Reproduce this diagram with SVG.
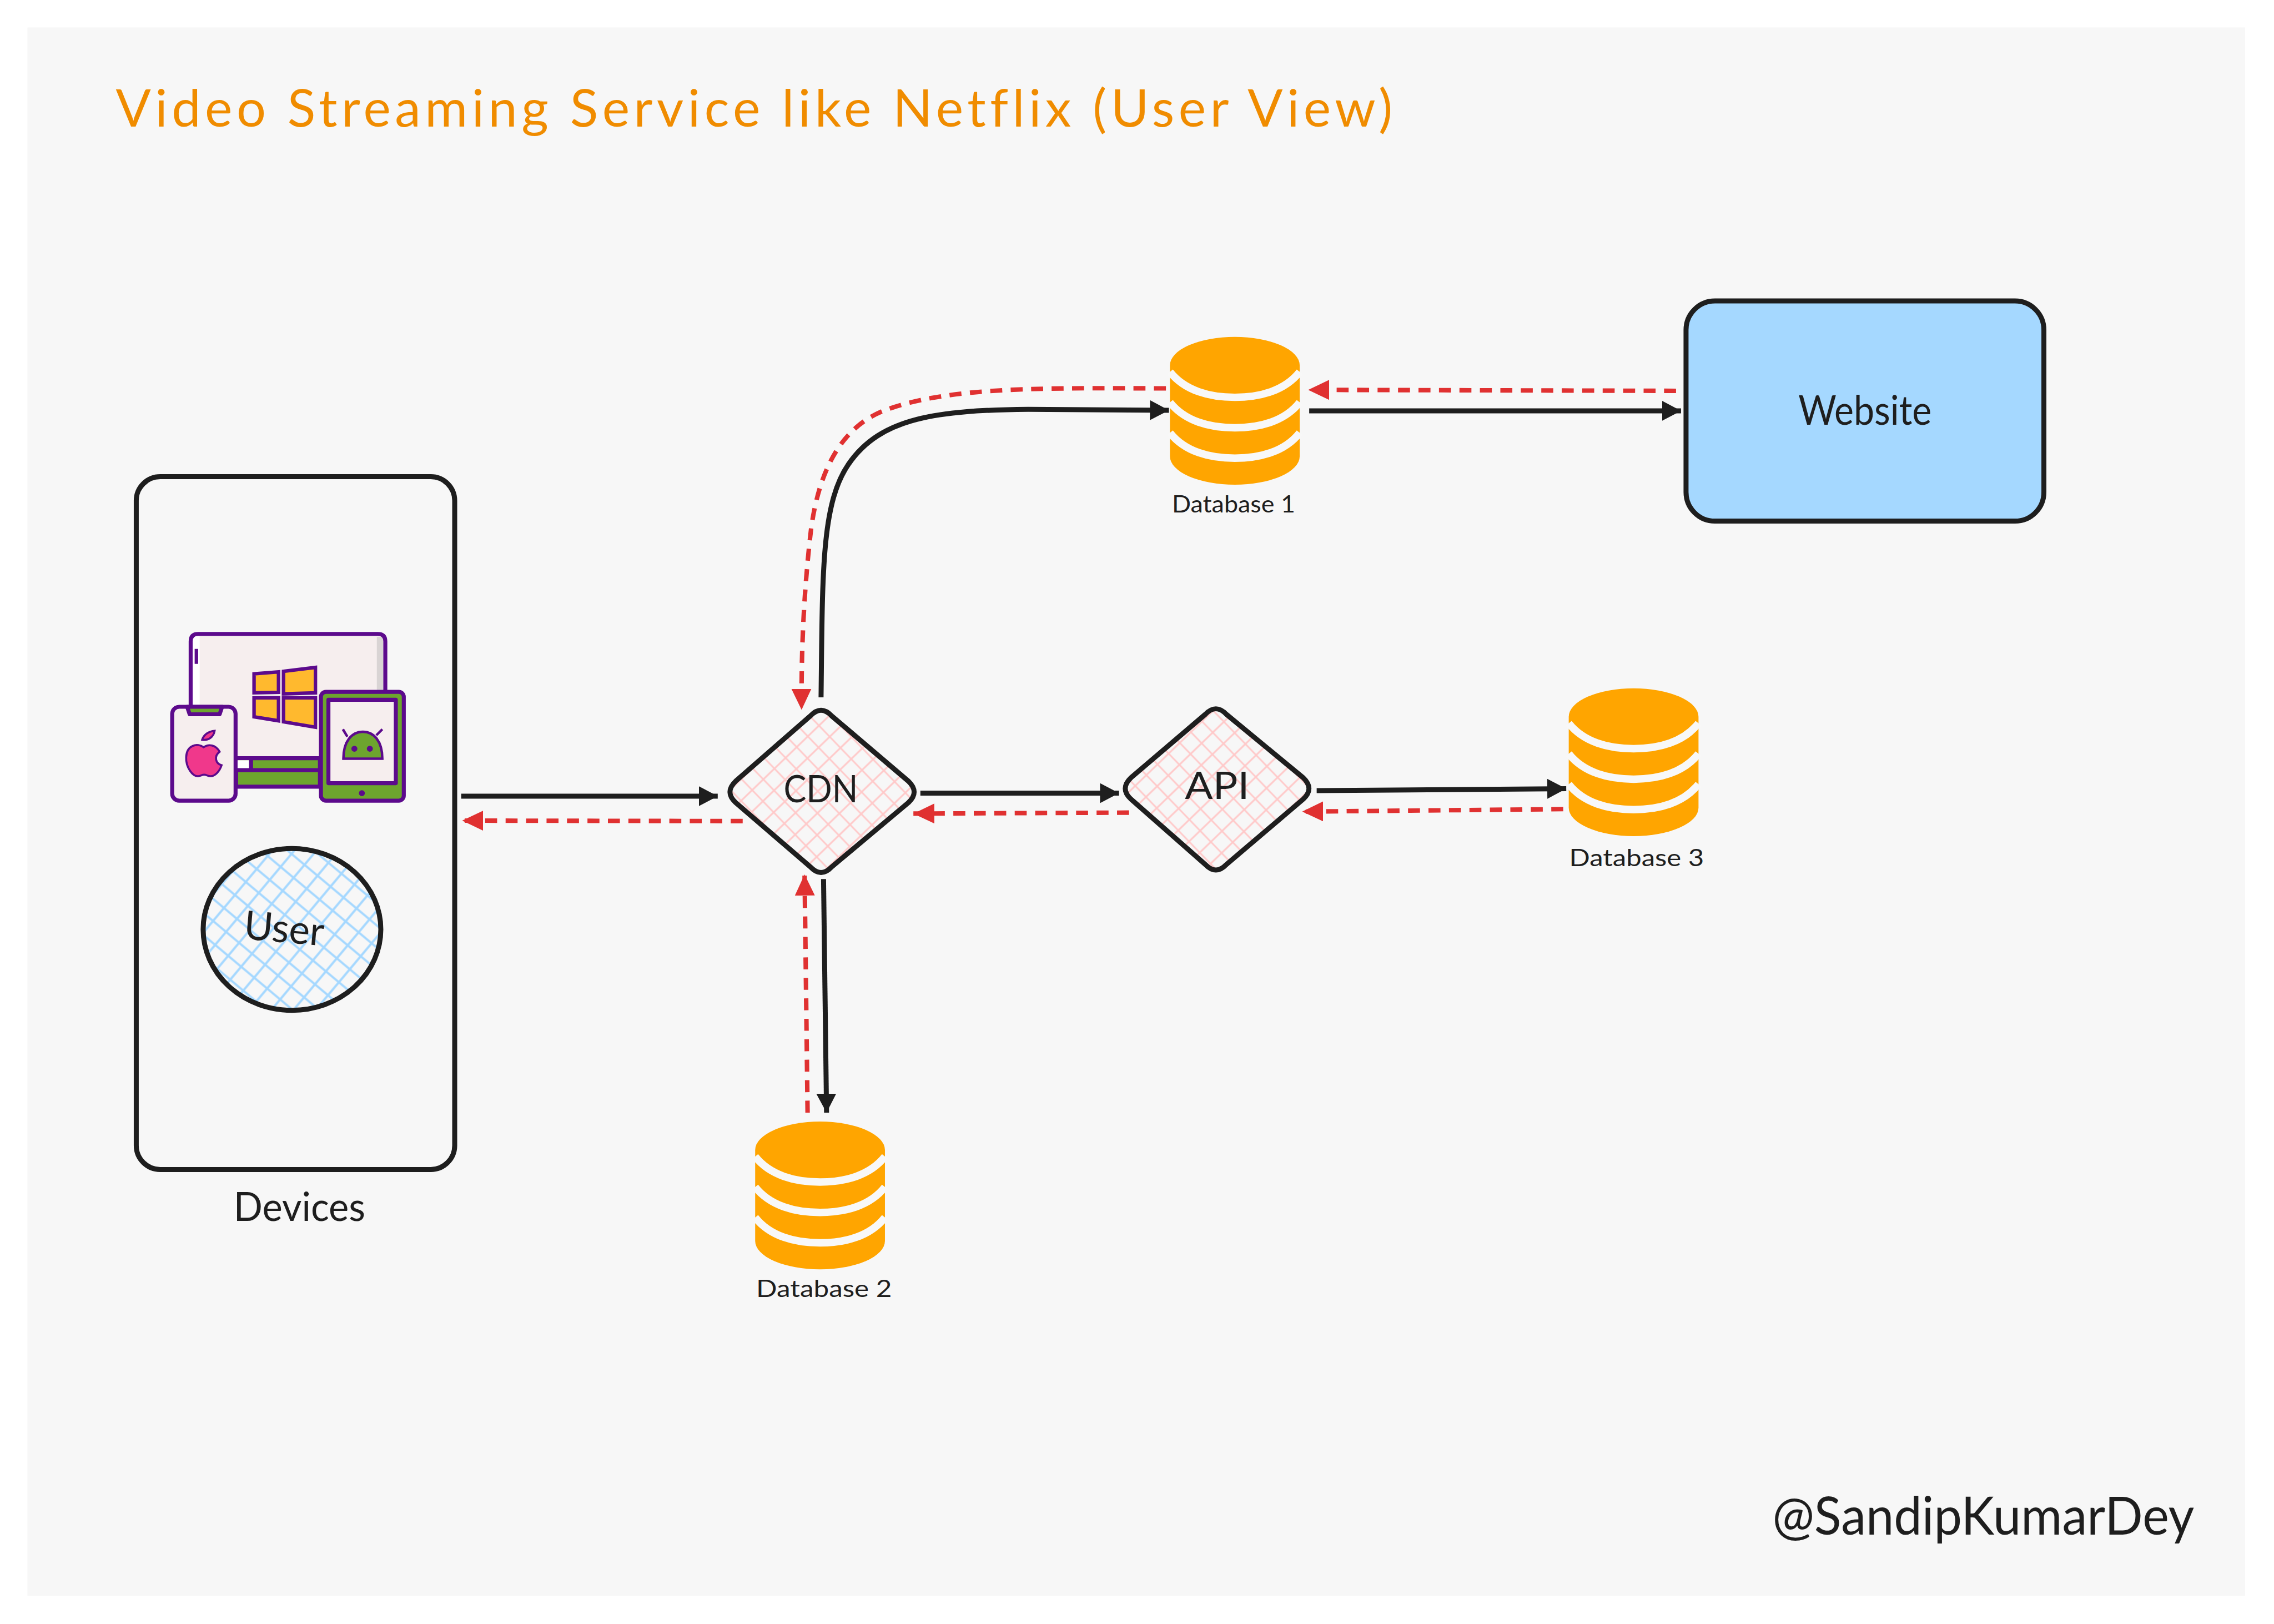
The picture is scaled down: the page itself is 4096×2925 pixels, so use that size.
<svg xmlns="http://www.w3.org/2000/svg" xmlns:xlink="http://www.w3.org/1999/xlink" width="4096" height="2925" viewBox="0 0 4096 2925">
<style>
text{font-family:"Lato","Liberation Sans",sans-serif;fill:#1e1e1e;font-variant-ligatures:none}
.ttl{fill:#f08c00}
.box{stroke:#1e1e1e;stroke-width:10;stroke-linejoin:round}
.blk{fill:none;stroke:#1e1e1e;stroke-width:10;marker-end:url(#ah)}
.red{fill:none;stroke:#e03131;stroke-width:9;stroke-dasharray:24 17;marker-end:url(#rh)}
.pu{stroke:#5c0a8c;stroke-width:8;stroke-linejoin:round}
.gr{fill:#6da52e}.sc{fill:#f6eeee}
.dbt{font-size:47px}
</style>
<defs>
<marker id="ah" markerUnits="userSpaceOnUse" markerWidth="42" markerHeight="42" refX="38" refY="20" orient="auto"><path d="M0 0L38 20L0 40Z" fill="#1e1e1e"/></marker>
<marker id="rh" markerUnits="userSpaceOnUse" markerWidth="46" markerHeight="42" refX="42" refY="20" orient="auto"><path d="M0 0L42 20L0 40Z" fill="#e03131"/></marker>
<pattern id="hp" width="31" height="31" patternUnits="userSpaceOnUse" patternTransform="rotate(46)"><path d="M15.5 0V31M0 15.5H31" stroke="#ffc9c9" stroke-width="3.5" fill="none"/></pattern>
<pattern id="hb" width="34" height="34" patternUnits="userSpaceOnUse" patternTransform="rotate(40)"><path d="M17 0V34M0 17H34" stroke="#a5d8ff" stroke-width="4.5" fill="none"/></pattern>
<g id="dbi">
<path d="M0 57A130 57 0 0 1 260 57V239A130 57 0 0 1 0 239Z" fill="#ffa500"/>
<path d="M0 70C30 108 80 121 130 121S230 108 260 70M0 131C30 169 80 182 130 182S230 169 260 131M0 192C30 230 80 243 130 243S230 230 260 192" fill="none" stroke="#f8f8f8" stroke-width="15"/>
</g>
</defs>
<rect width="4096" height="2925" fill="#ffffff"/>
<g transform="scale(0.89903)">
<rect x="55" y="55" width="4443" height="3142" fill="#f7f7f7"/>
<g id="title"><text class="ttl" x="232" y="254" font-size="104" textLength="2558" lengthAdjust="spacing">Video Streaming Service like Netflix (User View)</text></g>

<g id="devices">
<rect x="273" y="955" width="638" height="1388" rx="48" fill="none" class="box"/>
<text x="468" y="2446" font-size="80" textLength="264" lengthAdjust="spacingAndGlyphs">Devices</text>
</g>

<g id="device-icons">
<path class="sc" d="M382 1420V1285Q382 1270 397 1270H757Q772 1270 772 1285V1519H382Z"/>
<rect x="386" y="1274" width="14" height="140" fill="#ffffff"/>
<rect x="755" y="1276" width="13" height="115" fill="#d9d4d4"/>
<path class="pu" fill="none" d="M382 1420V1285Q382 1270 397 1270H757Q772 1270 772 1285V1400"/>
<rect x="390" y="1300" width="7" height="30" fill="#5c0a8c"/>
<path fill="#ffb92e" stroke="#5c0a8c" stroke-width="7" d="M509 1350L558 1346V1387L509 1388ZM568 1345L632 1337V1388L568 1390ZM509 1398H558V1444L509 1436ZM568 1398H632V1457L568 1446Z"/>
<rect x="473" y="1519" width="168" height="57" class="pu gr"/>
<rect x="473" y="1523" width="26" height="18" fill="#ffffff"/>
<path d="M473 1543H641M503 1519V1543" class="pu" fill="none"/>
<rect x="345" y="1416" width="127" height="188" rx="14" class="pu sc"/>
<path class="pu gr" d="M375 1416L380 1431H440L445 1416Z"/>
<path fill="#f0388b" stroke="#5c0a8c" stroke-width="4" d="M408 1497C396 1488 374 1492 373 1517C372 1537 386 1556 397 1555C402 1555 404 1552 409 1552C414 1552 416 1555 422 1555C431 1555 440 1545 444 1533C432 1530 428 1515 440 1506C432 1492 418 1490 408 1497Z"/>
<path fill="#f0388b" stroke="#5c0a8c" stroke-width="4" d="M405 1482C408 1472 418 1465 430 1464C428 1476 418 1484 405 1482Z"/>
<rect x="643" y="1386" width="166" height="218" rx="10" class="pu gr"/>
<rect x="658" y="1402" width="135" height="167" class="pu sc"/>
<path class="gr" stroke="#5c0a8c" stroke-width="5" d="M688 1520C688 1485 705 1466 727 1466C749 1466 766 1485 766 1520Z"/>
<path d="M696 1476L687 1461M754 1473L766 1461" stroke="#5c0a8c" stroke-width="5" fill="none"/>
<circle cx="710" cy="1500" r="6" fill="#5c0a8c"/><circle cx="741" cy="1500" r="6" fill="#5c0a8c"/><circle cx="725" cy="1589" r="6" fill="#5c0a8c"/>
</g>

<g id="user">
<ellipse cx="585" cy="1862" rx="178" ry="162" fill="url(#hb)" class="box"/>
<text x="489" y="1888" font-size="80" textLength="161" lengthAdjust="spacingAndGlyphs" transform="rotate(5 569 1860)">User</text>
</g>

<g id="cdn">
<path class="box" fill="url(#hp)" d="M1474 1565L1624 1434Q1645 1412 1666 1434L1820 1565Q1843 1587 1820 1608L1666 1737Q1645 1759 1624 1737L1474 1608Q1451 1587 1474 1565Z"/>
<text x="1570" y="1607" font-size="76" textLength="149" lengthAdjust="spacingAndGlyphs">CDN</text>
</g>
<g id="api">
<path class="box" fill="url(#hp)" d="M2266 1558L2415 1431Q2436 1409 2457 1431L2611 1558Q2634 1580 2611 1601L2457 1732Q2436 1754 2415 1732L2266 1601Q2243 1580 2266 1558Z"/>
<text x="2374" y="1601" font-size="76" textLength="129" lengthAdjust="spacingAndGlyphs">API</text>
</g>

<g id="db1"><use xlink:href="#dbi" href="#dbi" x="2344" y="675"/><text class="dbt" x="2348" y="1027" textLength="247" lengthAdjust="spacingAndGlyphs">Database 1</text></g>
<g id="db2"><use xlink:href="#dbi" href="#dbi" x="1513" y="2247"/><text class="dbt" x="1515" y="2598" textLength="272" lengthAdjust="spacingAndGlyphs">Database 2</text></g>
<g id="db3"><use xlink:href="#dbi" href="#dbi" x="3143" y="1379"/><text class="dbt" x="3144" y="1735" textLength="270" lengthAdjust="spacingAndGlyphs">Database 3</text></g>

<g id="website">
<rect x="3378" y="603" width="717" height="441" rx="58" fill="#a5d8ff" class="box"/>
<text x="3603" y="851" font-size="82" textLength="267" lengthAdjust="spacingAndGlyphs">Website</text>
</g>

<g id="handle"><text x="3551" y="3074" font-size="105" textLength="845" lengthAdjust="spacingAndGlyphs">@SandipKumarDey</text></g>

<g id="connectors">
<path class="blk" d="M924 1595H1438"/>
<path class="blk" d="M1844 1589H2242"/>
<path class="blk" d="M2638 1584L3138 1580"/>
<path class="blk" d="M1645 1397C1648 1150 1645 1010 1700 930C1765 835 1880 822 2060 820L2342 822"/>
<path class="blk" d="M2623 823H3368"/>
<path class="blk" d="M1650 1761L1656 2229"/>
<path class="red" d="M3358 783L2621 781"/>
<path class="red" d="M2336 778C2100 778 1900 772 1765 825C1680 862 1640 950 1625 1060C1612 1170 1605 1290 1606 1422"/>
<path class="red" d="M1488 1645L926 1644"/>
<path class="red" d="M2262 1628L1830 1630"/>
<path class="red" d="M3132 1621L2609 1626"/>
<path class="red" d="M1618 2229L1612 1752"/>
</g>
</g>
</svg>
